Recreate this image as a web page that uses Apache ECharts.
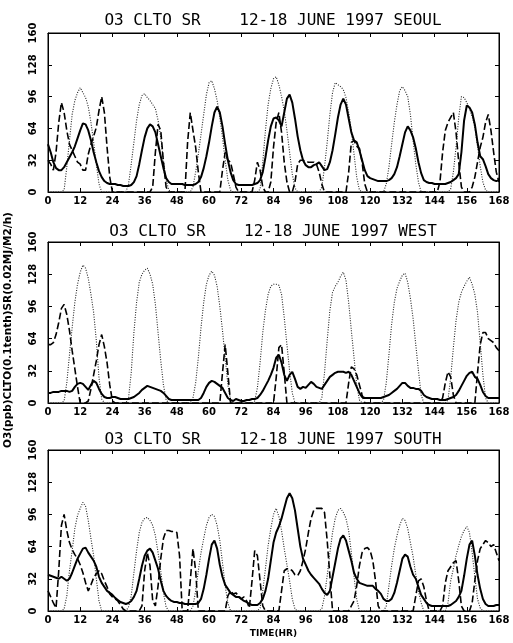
<!DOCTYPE html>
<html><head><meta charset="utf-8">
<script src="https://cdn.jsdelivr.net/npm/echarts@6/dist/echarts.min.js"></script>
<style>html,body{margin:0;padding:0;background:#fff}#c{width:513px;height:643px}</style>
</head><body><div id="c"></div>
<script>
// ---- data (hourly, hours 0..168) ----
const panelTitles = ["O3 CLTO SR    12-18 JUNE 1997 SEOUL", "O3 CLTO SR    12-18 JUNE 1997 WEST", "O3 CLTO SR    12-18 JUNE 1997 SOUTH"];
const xTicks = [0, 12, 24, 36, 48, 60, 72, 84, 96, 108, 120, 132, 144, 156, 168];
const yTicks = [0, 32, 64, 96, 128, 160];
const xName = "TIME(HR)";
const yName = "O3(ppb)CLTO(0.1tenth)SR(0.02MJ/M2/h)";

const o3Seoul = [
 48,40,30,24,22,22,25,30,35,40,46,54,
 62,69,68,62,52,40,30,21,15,11,9,8,
 8,8,7,7,6,6,6,7,10,16,28,42,
 55,64,68,66,60,48,36,24,14,10,8,8,
 8,8,8,7,7,7,7,8,10,15,24,36,
 50,66,80,86,80,66,48,32,20,12,8,7,
 7,7,7,7,7,8,9,12,20,35,52,66,
 74,75,72,66,80,94,98,90,74,56,42,32,
 27,25,25,27,28,30,26,22,23,30,42,58,
 75,88,94,88,74,60,52,50,42,32,22,16,
 14,13,12,11,11,11,11,12,14,18,25,36,
 48,60,66,62,55,44,30,19,12,10,9,9,
 8,8,8,8,8,9,10,12,14,18,40,72,
 87,85,80,68,50,36,33,26,18,14,12,11,
 12];
const cloudSeoul = [
 32,28,22,40,70,90,80,62,48,42,36,30,
 28,22,22,38,48,56,65,82,96,80,45,15,
 0,0,0,0,0,0,0,0,0,0,0,0,
 0,0,0,5,40,68,62,30,5,0,0,0,
 0,0,0,0,50,80,62,45,20,0,0,0,
 0,0,0,0,0,22,40,32,30,18,5,0,
 0,0,0,0,0,12,30,22,5,0,0,10,
 45,70,80,60,30,10,0,0,10,28,32,32,
 31,30,30,30,28,20,8,0,0,0,0,0,
 0,0,0,0,20,50,52,46,44,30,8,0,
 0,0,0,0,0,0,0,0,0,0,0,0,
 0,0,0,0,0,0,0,0,0,0,0,0,
 0,0,10,40,62,70,75,80,60,30,5,0,
 0,0,5,15,30,45,55,70,78,62,40,20,
 10];
const srSeoul = [
 0,0,0,0,0,0,2,25,52,78,92,100,
 105,100,95,86,70,50,28,8,0,0,0,0,
 0,0,0,0,0,0,8,28,50,72,88,97,
 99,95,92,88,84,72,55,32,12,2,0,0,
 0,0,0,0,0,0,5,20,38,58,78,98,
 110,112,104,92,75,55,32,12,2,0,0,0,
 0,0,0,0,0,0,0,3,30,62,88,104,
 114,116,108,96,82,62,40,18,4,0,0,0,
 0,0,0,0,0,0,5,25,50,78,100,110,
 108,106,103,95,80,62,38,15,2,0,0,0,
 0,0,0,0,0,0,8,25,48,70,88,102,
 106,102,96,78,52,28,10,0,0,0,0,0,
 0,0,0,0,0,0,3,20,45,75,96,95,
 90,84,76,65,46,26,10,2,0,0,0,0,
 0];

const o3West = [
 10,10,11,11,11,12,12,12,11,12,16,19,
 20,19,16,13,18,22,20,14,9,6,5,5,
 6,6,5,4,4,4,4,5,6,8,10,13,
 15,17,16,15,14,13,12,10,7,4,3,3,
 3,3,3,3,3,3,3,3,3,5,10,16,
 20,22,21,19,17,15,10,5,3,2,4,3,
 2,2,3,3,4,4,5,8,12,17,22,28,
 35,45,48,40,28,22,28,31,24,16,14,16,
 15,18,21,19,16,15,14,18,22,26,28,30,
 31,31,31,30,31,28,22,16,10,6,5,5,
 5,5,5,5,5,6,7,8,10,12,14,17,
 20,20,17,15,15,14,14,12,8,6,5,4,
 4,4,3,3,3,4,5,6,8,12,17,22,
 27,30,31,26,24,18,11,7,5,5,5,5,
 5];
const cloudWest = [
 58,58,60,68,80,94,98,88,72,52,34,16,
 0,0,0,2,14,28,42,58,68,56,40,18,
 2,0,0,0,0,0,0,0,0,0,0,0,
 0,0,0,0,0,0,0,0,0,0,0,0,
 0,0,0,0,0,0,0,0,0,0,0,0,
 0,0,0,0,0,30,58,30,0,0,0,0,
 0,0,0,0,0,0,0,0,0,0,0,0,
 0,25,55,58,30,0,0,0,0,0,0,0,
 0,0,0,0,0,0,0,0,0,0,0,0,
 0,0,0,0,20,36,34,28,18,8,0,0,
 0,0,0,0,0,0,0,0,0,0,0,0,
 0,0,0,0,0,0,0,0,0,0,0,0,
 0,0,0,5,20,31,26,8,0,0,0,0,
 0,0,0,0,30,58,70,70,64,62,60,55,
 52];
const srWest = [
 0,0,0,0,0,0,2,20,48,75,100,118,
 130,137,134,124,108,90,62,25,4,0,0,0,
 0,0,0,0,0,0,5,30,70,100,120,128,
 132,134,128,118,98,70,42,18,3,0,0,0,
 0,0,0,0,0,0,5,20,45,75,100,118,
 127,131,127,116,96,72,45,18,3,0,0,0,
 0,0,0,0,0,2,15,40,70,92,108,116,
 118,118,117,108,85,58,32,10,0,0,0,0,
 0,0,0,0,0,0,5,30,62,92,110,116,
 120,126,130,122,100,72,45,18,3,0,0,0,
 0,0,0,0,0,3,20,48,78,100,114,121,
 127,129,120,104,84,58,32,8,0,0,0,0,
 0,0,0,0,0,3,25,55,82,100,110,116,
 121,125,118,108,90,60,28,5,0,0,0,0,
 0];

const o3South = [
 36,35,34,33,32,34,32,30,32,38,45,52,
 57,62,63,58,54,50,44,34,28,24,20,18,
 16,13,11,9,8,7,8,10,14,20,32,45,
 55,60,62,58,50,42,30,20,15,12,10,9,
 9,8,8,7,7,7,7,7,8,12,22,36,
 52,66,70,62,46,34,26,22,18,16,14,14,
 12,10,9,7,6,6,6,8,12,20,32,50,
 68,78,84,92,102,112,117,112,100,82,64,52,
 46,40,36,33,30,27,22,18,16,20,34,48,
 62,72,75,70,60,50,38,32,28,27,26,25,
 25,25,22,20,17,12,10,10,12,18,28,40,
 52,56,54,44,36,32,24,16,12,8,6,5,
 5,5,5,5,5,5,6,8,10,14,20,35,
 52,66,70,55,36,22,12,7,5,5,5,6,
 6];
const cloudSouth = [
 20,14,8,3,40,85,96,80,68,61,56,52,
 46,38,28,20,26,33,37,40,37,30,24,17,
 14,12,10,6,2,0,0,0,0,0,0,5,
 40,58,45,10,5,25,52,72,80,80,79,79,
 78,55,0,0,0,30,62,40,0,0,0,0,
 0,0,0,0,0,0,0,15,20,17,18,15,
 12,14,10,3,30,60,55,30,5,0,0,0,
 0,0,0,20,40,42,42,40,36,35,40,50,
 62,78,92,100,102,102,102,98,70,35,0,0,
 0,0,0,0,0,5,10,25,45,58,62,63,
 60,50,30,5,0,0,0,0,0,0,0,0,
 0,0,0,0,0,15,30,32,24,10,0,0,
 0,0,0,5,28,40,44,48,50,30,5,0,
 0,0,8,30,50,62,66,70,68,64,66,58,
 50];
const srSouth = [
 0,0,0,0,0,0,2,15,40,60,82,95,
 102,108,104,90,72,55,32,10,0,0,0,0,
 0,0,0,0,0,0,4,15,38,60,78,88,
 92,93,90,85,75,58,40,18,4,0,0,0,
 0,0,0,0,0,0,5,20,40,58,72,85,
 93,96,94,85,70,48,25,8,0,0,0,0,
 0,0,0,0,0,0,0,3,20,42,65,82,
 96,102,94,80,62,46,30,12,2,0,0,0,
 0,0,0,0,0,0,2,15,35,58,78,92,
 100,102,98,92,80,58,34,12,0,0,0,0,
 0,0,0,0,0,0,5,25,45,62,75,85,
 92,90,82,68,54,36,20,8,0,0,0,0,
 0,0,0,0,0,8,30,42,55,65,74,80,
 84,78,58,34,12,3,0,0,0,0,0,0,
 0];

const panels = [
  {o3: o3Seoul, cloud: cloudSeoul, sr: srSeoul},
  {o3: o3West, cloud: cloudWest, sr: srWest},
  {o3: o3South, cloud: cloudSouth, sr: srSouth}
];

// ---- layout / styles ----
const FONT = "'DejaVu Sans', sans-serif";
const grids = [
  {left: 48, right: 14, top: 33, height: 159},
  {left: 48, right: 14, top: 242, height: 161},
  {left: 48, right: 14, top: 450, height: 161}
];
const titleTops = [8, 219, 427];

const toXY = arr => arr.map((v, i) => [i, v]);

const option = {
  animation: false,
  backgroundColor: '#fff',
  title: panelTitles.map((t, k) => ({
    text: t, left: 268, top: titleTops[k], textAlign: 'center',
    textStyle: {fontFamily: "'DejaVu Sans Mono', monospace", fontSize: 16, fontWeight: 'normal', color: '#000'}
  })),
  grid: grids.map(g => Object.assign({show: true, borderColor: '#000', borderWidth: 1, backgroundColor: 'transparent'}, g)),
  xAxis: [],
  yAxis: [],
  series: [],
  graphic: [{
    type: 'text', rotation: Math.PI / 2, x: 8, y: 330,
    style: {text: yName, fill: '#000', font: "bold 10.5px " + FONT, textAlign: 'center', textVerticalAlign: 'middle'}
  }]
};

panels.forEach((p, k) => {
  const common = {
    gridIndex: k, type: 'value', min: 0, max: 168, interval: 12,
    axisLine: {show: true, onZero: false, lineStyle: {color: '#000', width: 1}},
    axisTick: {show: true, inside: true, length: 4, lineStyle: {color: '#000'}},
    splitLine: {show: false}
  };
  option.xAxis.push(Object.assign({}, common, {
    position: 'bottom',
    axisLabel: {show: true, color: '#000', fontSize: 10, fontWeight: 'bold', fontFamily: FONT, margin: 4},
    name: k === 2 ? xName : '', nameLocation: 'middle', nameGap: 18,
    nameTextStyle: {color: '#000', fontSize: 9, fontWeight: 'bold', fontFamily: FONT}
  }));
  option.xAxis.push(Object.assign({}, common, {position: 'top', axisLabel: {show: false}}));
  const ycommon = {
    gridIndex: k, type: 'value', min: 0, max: 160, interval: 32,
    axisLine: {show: true, onZero: false, lineStyle: {color: '#000', width: 1}},
    axisTick: {show: true, inside: true, length: 4, lineStyle: {color: '#000'}},
    splitLine: {show: false}
  };
  option.yAxis.push(Object.assign({}, ycommon, {
    position: 'left',
    axisLabel: {show: true, rotate: 90, color: '#000', fontSize: 10, fontWeight: 'bold', fontFamily: FONT, margin: 10}
  }));
  option.yAxis.push(Object.assign({}, ycommon, {position: 'right', axisLabel: {show: false}}));

  const xi = k * 2, yi = k * 2;
  option.series.push({
    type: 'line', name: 'SR', xAxisIndex: xi, yAxisIndex: yi, data: toXY(p.sr),
    showSymbol: false, symbol: 'none', lineStyle: {color: '#222', width: 1.1, type: [1, 1.5]}, z: 1
  });
  option.series.push({
    type: 'line', name: 'CLTO', xAxisIndex: xi, yAxisIndex: yi, data: toXY(p.cloud),
    showSymbol: false, symbol: 'none', lineStyle: {color: '#000', width: 1.6, type: [7, 3]}, z: 2
  });
  option.series.push({
    type: 'line', name: 'O3', xAxisIndex: xi, yAxisIndex: yi, data: toXY(p.o3),
    showSymbol: false, symbol: 'none', lineStyle: {color: '#000', width: 2}, z: 3
  });
});

const chart = echarts.init(document.getElementById('c'), null, {renderer: 'canvas'});
chart.setOption(option);
</script>
</body></html>
